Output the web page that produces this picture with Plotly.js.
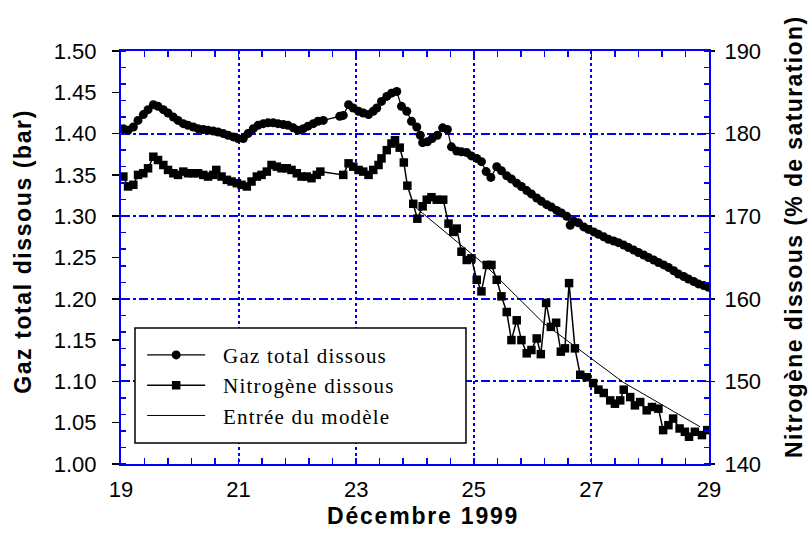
<!DOCTYPE html>
<html>
<head>
<meta charset="utf-8">
<script src="https://cdn.plot.ly/plotly-3.0.1.min.js"></script>
<style>
  html, body { margin: 0; padding: 0; background: #fff; }
  #chart { width: 809px; height: 539px; }
  .legendtext { letter-spacing: 1.2px; }
</style>
</head>
<body>
<div id="chart"></div>
<script>
// Gaz total dissous (bar) - left axis
const gasDay = [19.04,19.12,19.21,19.29,19.38,19.46,19.55,19.63,19.72,19.80,19.89,19.97,20.06,20.14,20.23,20.31,20.40,20.48,20.57,20.65,20.74,20.82,20.91,20.99,21.08,21.16,21.25,21.33,21.42,21.50,21.59,21.67,21.76,21.84,21.93,22.01,22.10,22.18,22.27,22.35,22.44,22.72,22.78,22.87,22.95,23.04,23.12,23.21,23.29,23.35,23.43,23.52,23.60,23.69,23.77,23.86,23.94,24.03,24.09,24.13,24.21,24.29,24.38,24.47,24.55,24.62,24.71,24.79,24.88,24.96,25.05,25.13,25.21,25.29,25.39,25.47,25.56,25.64,25.73,25.81,25.90,25.98,26.07,26.15,26.24,26.32,26.41,26.49,26.58,26.64,26.70,26.78,26.87,26.95,27.04,27.12,27.21,27.29,27.38,27.46,27.55,27.63,27.72,27.80,27.89,27.97,28.06,28.14,28.23,28.31,28.40,28.48,28.57,28.65,28.74,28.82,28.91,28.99];
const gasBar = [1.406,1.404,1.408,1.416,1.423,1.429,1.435,1.433,1.429,1.425,1.420,1.416,1.412,1.410,1.408,1.406,1.405,1.404,1.403,1.402,1.400,1.398,1.396,1.394,1.394,1.400,1.406,1.410,1.412,1.413,1.413,1.412,1.411,1.410,1.407,1.404,1.406,1.409,1.412,1.415,1.416,1.421,1.422,1.435,1.431,1.427,1.425,1.423,1.427,1.431,1.439,1.445,1.449,1.451,1.433,1.427,1.415,1.408,1.398,1.389,1.390,1.394,1.398,1.407,1.405,1.384,1.379,1.378,1.377,1.373,1.370,1.366,1.354,1.347,1.360,1.355,1.349,1.345,1.340,1.336,1.331,1.327,1.322,1.318,1.314,1.311,1.307,1.304,1.300,1.289,1.294,1.292,1.287,1.284,1.281,1.278,1.275,1.272,1.270,1.268,1.265,1.262,1.259,1.256,1.253,1.250,1.247,1.244,1.241,1.238,1.234,1.230,1.227,1.224,1.221,1.218,1.216,1.214];

// Nitrogène dissous (% de saturation) - right axis
const n2Day = [19.04,19.12,19.21,19.29,19.38,19.46,19.55,19.63,19.72,19.80,19.89,19.97,20.06,20.14,20.23,20.31,20.40,20.48,20.57,20.62,20.71,20.80,20.88,20.97,21.05,21.14,21.22,21.31,21.39,21.48,21.56,21.65,21.73,21.82,21.90,21.99,22.07,22.16,22.24,22.33,22.39,22.78,22.87,22.95,23.04,23.12,23.21,23.29,23.38,23.43,23.52,23.60,23.66,23.74,23.81,23.87,23.97,24.04,24.13,24.20,24.28,24.37,24.48,24.57,24.65,24.71,24.79,24.88,24.96,25.05,25.13,25.22,25.30,25.39,25.47,25.56,25.64,25.73,25.81,25.90,25.98,26.07,26.14,26.23,26.31,26.40,26.48,26.55,26.62,26.72,26.81,26.92,27.03,27.12,27.21,27.32,27.40,27.49,27.55,27.66,27.74,27.83,27.94,28.03,28.14,28.22,28.31,28.39,28.50,28.59,28.66,28.76,28.88,28.97];
const n2Pct = [174.8,173.6,173.8,175.0,175.2,175.8,177.2,176.8,176.2,175.6,175.2,175.0,175.4,175.2,175.2,175.2,175.0,174.8,175.0,175.6,174.8,174.4,174.2,174.0,173.8,173.6,174.2,174.8,175.0,175.4,176.2,176.0,175.8,175.8,175.6,175.2,174.8,174.8,174.6,175.0,175.4,175.0,176.4,176.0,175.6,175.4,175.0,175.6,176.2,177.0,178.0,178.8,179.2,178.3,176.5,173.7,171.5,169.7,171.2,172.0,172.3,172.0,172.0,169.1,168.1,168.5,165.7,164.7,164.9,162.3,160.9,164.1,164.1,162.3,160.3,158.4,155.0,157.4,155.0,153.4,153.8,155.2,153.3,159.5,156.6,157.1,153.6,154.0,161.9,154.0,150.8,150.5,149.8,149.0,148.6,147.7,147.3,147.7,149.0,148.1,147.1,147.5,146.5,146.9,146.7,144.1,144.7,145.5,144.3,143.9,143.3,143.9,143.5,144.1];

// Entrée du modèle (% de saturation) - right axis
const modelDay = [23.97,25.19,26.18,27.54,28.85];
const modelPct = [171.3,164.1,157.1,149.9,144.5];

const seriesNames = ["Gaz total dissous","Nitrogène dissous","Entrée du modèle"];
const xTitle = "Décembre 1999";
const yTitle = "Gaz total dissous (bar)";
const y2Title = "Nitrogène dissous (% de saturation)";

const BLUE = "#0000ff";
const PAD = "\u00a0\u00a0";
const tickFont = {family: "Liberation Sans, Arial, sans-serif", size: 22, color: "#000"};
const titleFont = {family: "Liberation Sans, Arial, sans-serif", size: 23, color: "#000", weight: "bold"};

const traces = [
  {x: gasDay, y: gasBar, name: PAD + seriesNames[0], type: "scatter", mode: "lines+markers",
   yaxis: "y", legendgroup: "a",
   line: {color: "#000", width: 1.2}, marker: {symbol: "circle", size: 9, color: "#000"}},
  {x: n2Day, y: n2Pct, name: PAD + seriesNames[1], type: "scatter", mode: "lines+markers",
   yaxis: "y2", legendgroup: "b",
   line: {color: "#000", width: 1.5}, marker: {symbol: "square", size: 8.5, color: "#000"}},
  {x: modelDay, y: modelPct, name: PAD + seriesNames[2], type: "scatter", mode: "lines",
   yaxis: "y2", legendgroup: "c",
   line: {color: "#000", width: 1}}
];

const layout = {
  width: 809, height: 539,
  margin: {l: 121, r: 100, t: 51, b: 75, pad: 0},
  paper_bgcolor: "#fff", plot_bgcolor: "#fff",
  font: {family: "Liberation Sans, Arial, sans-serif", color: "#000"},
  showlegend: true,
  legend: {
    x: 0.036, y: 0.313, xanchor: "left", yanchor: "top",
    bgcolor: "rgba(0,0,0,0)", borderwidth: 0,
    font: {family: "Liberation Serif, Times New Roman, serif", size: 21, color: "#000"},
    itemwidth: 58, traceorder: "grouped", tracegroupgap: 0
  },
  xaxis: {
    range: [19, 29], tick0: 19, dtick: 2,
    showline: true, linecolor: BLUE, linewidth: 2, mirror: "ticks",
    ticks: "inside", ticklen: 6, tickcolor: BLUE, tickwidth: 1.5,
    ticklabelstandoff: 5,
    minor: {dtick: 0.4, tick0: 19, ticks: "inside", ticklen: 6, tickcolor: BLUE, tickwidth: 1.5, showgrid: false},
    showgrid: true, gridcolor: BLUE, gridwidth: 2, griddash: "dot",
    zeroline: false, tickfont: tickFont
  },
  yaxis: {
    range: [1.0, 1.5], tick0: 1.0, dtick: 0.05, tickformat: ".2f",
    showline: true, linecolor: BLUE, linewidth: 2,
    ticks: "outside", ticklen: 7, tickcolor: "#000", tickwidth: 1.5,
    ticklabelstandoff: 11,
    minor: {dtick: 0.02, tick0: 1.0, ticks: "inside", ticklen: 5, tickcolor: BLUE, tickwidth: 1.5, showgrid: false},
    showgrid: false, zeroline: false, tickfont: tickFont
  },
  yaxis2: {
    range: [140, 190], tick0: 140, dtick: 10, overlaying: "y", side: "right",
    showline: true, linecolor: BLUE, linewidth: 2,
    ticks: "outside", ticklen: 4, tickcolor: "#000", tickwidth: 1.5,
    ticklabelstandoff: 5,
    minor: {dtick: 2, tick0: 140, ticks: "inside", ticklen: 5, tickcolor: BLUE, tickwidth: 1.5, showgrid: false},
    showgrid: true, gridcolor: BLUE, gridwidth: 2, griddash: "dashdot",
    zeroline: false, tickfont: tickFont
  },
  shapes: [
    {type: "rect", xref: "paper", yref: "paper", x0: 0.0238, x1: 0.5867, y0: 0.0508, y1: 0.3293,
     line: {color: "#000", width: 1.5}, fillcolor: "#fff", layer: "above"}
  ],
  annotations: [
    {text: '<span style="letter-spacing:1.8px">' + xTitle + '</span>', xref: "paper", yref: "paper",
     x: 0.5136, y: -0.127, xanchor: "center", yanchor: "middle", showarrow: false, font: titleFont},
    {text: '<span style="letter-spacing:1.6px">' + yTitle + '</span>', xref: "paper", yref: "paper",
     x: -0.167, y: 0.5157, xanchor: "center", yanchor: "middle", textangle: -90, showarrow: false, font: titleFont},
    {text: '<span style="letter-spacing:1.4px">' + y2Title + '</span>', xref: "paper", yref: "paper",
     x: 1.1446, y: 0.5496, xanchor: "center", yanchor: "middle", textangle: -90, showarrow: false, font: titleFont}
  ]
};

Plotly.newPlot("chart", traces, layout, {displayModeBar: false, staticPlot: true});
</script>
</body>
</html>
